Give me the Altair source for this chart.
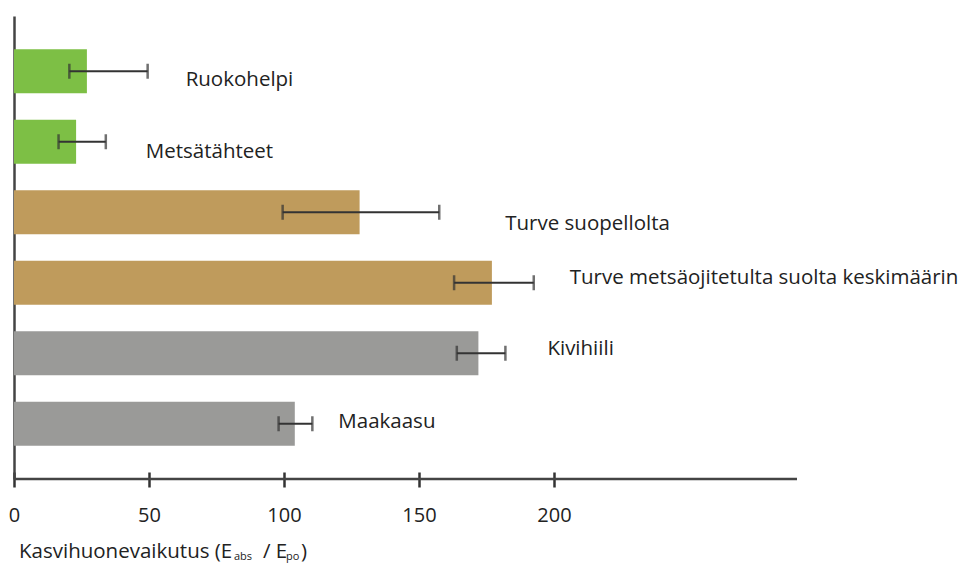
import altair as alt
import pandas as pd

# ---- data ----
names = ["Ruokohelpi", "Metsätähteet", "Turve suopellolta",
         "Turve metsäojitetulta suolta keskimäärin", "Kivihiili", "Maakaasu"]
groups = ["bio", "bio", "turve", "turve", "fossiili", "fossiili"]
values = [27, 23, 128, 177, 172, 104]
err_lo = [20.5, 16.5, 99.5, 163, 164, 98]
err_hi = [49.5, 34, 157.5, 192.5, 182, 110.5]
tick_values = [0, 50, 100, 150, 200]
x_title_parts = ["Kasvihuonevaikutus (E", "abs", "/ E", "po", ")"]

df = pd.DataFrame({"name": names, "group": groups, "value": values,
                   "lo": err_lo, "hi": err_hi})

# ---- layout / style ----
W, H = 783, 463
X_MAX = 290
FONT = "Open Sans"
TEXT_COLOR = "#222222"
label_dx = [38, 40, 66, 36, 42, 26]
label_dy = [15, 16, 18, 1, 2, 4]
title_x = [5, 220, 249, 272, 287]
title_y = [542, 544, 542, 544, 542]
title_size = [20.5, 11, 20.5, 11, 20.5]

y_enc = alt.Y("name:N", sort=names,
              scale=alt.Scale(paddingInner=0.373, paddingOuter=0.47),
              axis=alt.Axis(labels=False, ticks=False, title=None,
                            domainColor="#444444", domainWidth=2.5))
x_scale = alt.Scale(domain=[0, X_MAX], nice=False)

base = alt.Chart(df)

bars = base.mark_bar().encode(
    x=alt.X("value:Q", scale=x_scale,
            axis=alt.Axis(values=tick_values, title=None, domain=False,
                          grid=False, tickSize=15, tickWidth=2.5,
                          tickColor="#333333", offset=-7, labelPadding=18,
                          labelFont=FONT, labelFontSize=20,
                          labelColor=TEXT_COLOR, labelFlush=False)),
    y=y_enc,
    color=alt.Color("group:N", legend=None,
                    scale=alt.Scale(domain=["bio", "turve", "fossiili"],
                                    range=["#7dbf45", "#bf9b5c", "#9a9a98"])),
)

err_line = base.mark_rule(color="#333333", strokeWidth=2.2).encode(
    x=alt.X("lo:Q", scale=x_scale), x2="hi:Q", y=y_enc)
cap_lo = base.mark_tick(color="#333333", thickness=2.5, size=15).encode(
    x=alt.X("lo:Q", scale=x_scale), y=y_enc)
cap_hi = base.mark_tick(color="#333333", thickness=2.5, size=15).encode(
    x=alt.X("hi:Q", scale=x_scale), y=y_enc)

x_line = alt.Chart(pd.DataFrame({"v": [0]})).mark_rule(
    color="#444444", strokeWidth=2.5).encode(
    x=alt.value(0), x2=alt.value(W), y=alt.value(H))

layers = [bars, err_line, cap_lo, cap_hi, x_line]

for i, n in enumerate(names):
    layers.append(
        base.transform_filter(alt.datum.name == n).mark_text(
            align="left", baseline="alphabetic", dx=label_dx[i], dy=label_dy[i],
            font=FONT, fontSize=20.5, color=TEXT_COLOR).encode(
            x=alt.X("hi:Q", scale=x_scale), y=y_enc, text="name:N"))

for i, part in enumerate(x_title_parts):
    layers.append(
        alt.Chart(pd.DataFrame({"t": [part]})).mark_text(
            align="left", baseline="alphabetic", font=FONT,
            fontSize=title_size[i], color=TEXT_COLOR).encode(
            x=alt.value(title_x[i]), y=alt.value(title_y[i]), text="t:N"))

chart = alt.layer(*layers).properties(
    width=W, height=H,
    autosize=alt.AutoSizeParams(type="none"),
    padding={"left": 6, "top": 8, "right": 163, "bottom": 84},
).configure_view(stroke=None)

chart.save("out.html", embed_options={"renderer": "svg", "actions": False})
